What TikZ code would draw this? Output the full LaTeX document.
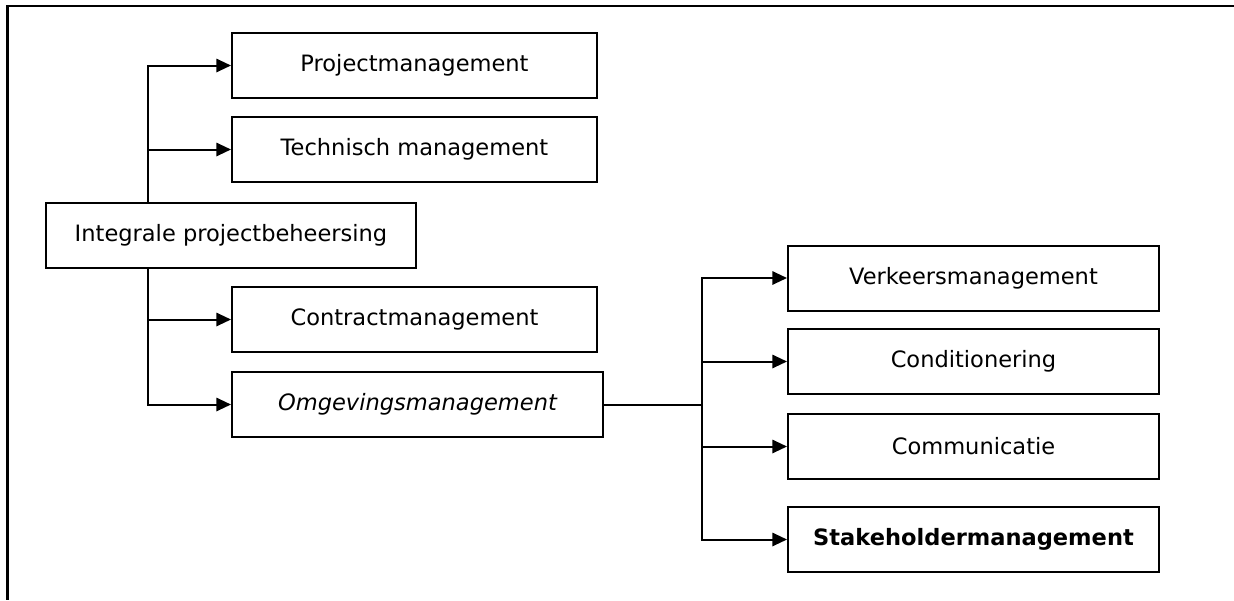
\documentclass[tikz,border=0pt]{standalone}
\usepackage{fontspec}
\setmainfont{DejaVu Sans}
\usetikzlibrary{arrows.meta}
\begin{document}
\begin{tikzpicture}[x=0.75pt,y=-0.75pt,
  box/.style={draw,line width=1.5pt,minimum height=65*0.75pt,inner sep=0pt,font=\fontsize{16.9}{19}\selectfont},
  lbox/.style={box,minimum width=365*0.75pt},
  rbox/.style={box,minimum width=371*0.75pt},
  conn/.style={line width=1.5pt},
  arr/.style={conn,-{Triangle[length=11pt,width=10pt]}}]
\useasboundingbox (0,0) rectangle (1234,600);
\draw[line width=1.6pt] (1234,6) -- (7.5,6) -- (7.5,600);
% nodes
\node[box,minimum width=370*0.75pt] (int) at (231,235) {Integrale projectbeheersing};
\node[lbox] (pm) at (414.5,65.5) {Projectmanagement};
\node[lbox] (tm) at (414.5,149.5) {Technisch management};
\node[lbox] (cm) at (414.5,319.5) {Contractmanagement};
\node[box,minimum width=371*0.75pt] (om) at (417.5,404.5) {\itshape Omgevingsmanagement};
\node[rbox] (vm) at (973.5,278) {Verkeersmanagement};
\node[rbox] (co) at (973.5,361.5) {Conditionering};
\node[rbox] (cu) at (973.5,446.5) {Communicatie};
\node[rbox] (sm) at (973.5,539.5) {\bfseries Stakeholdermanagement};
\coordinate (tk) at (148,0);
\coordinate (br) at (702,0);
% connectors left
\draw[arr] (int.north -| tk) |- (pm.west);
\draw[arr] (int.north -| tk) |- (tm.west);
\draw[arr] (int.south -| tk) |- (cm.west);
\draw[arr] (int.south -| tk) |- (om.west);
% connectors right
\draw[conn] (om.east) -- (om.east -| br);
\draw[arr] (om.east -| br) |- (vm.west);
\draw[arr] (om.east -| br) |- (co.west);
\draw[arr] (om.east -| br) |- (cu.west);
\draw[arr] (om.east -| br) |- (sm.west);
\end{tikzpicture}
\end{document}
